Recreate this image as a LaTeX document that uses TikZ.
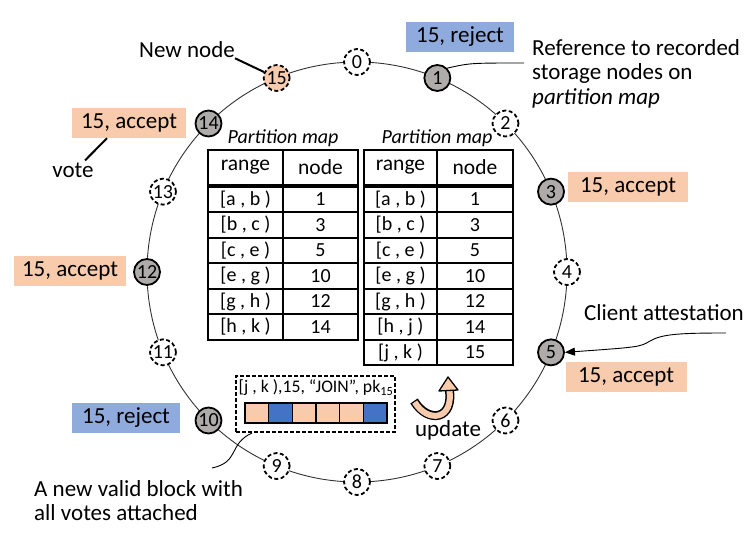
\documentclass[tikz,border=0pt]{standalone}
\usepackage{fontspec}
\setmainfont{Carlito}
\usetikzlibrary{arrows.meta}

\definecolor{peach}{HTML}{F8CBAD}
\definecolor{voteblue}{HTML}{8FAADC}
\definecolor{blockblue}{HTML}{4472C4}
\definecolor{nodegray}{HTML}{AFABAB}

\newcommand{\lblfont}{\fontsize{23}{24.5}\selectfont}
\newcommand{\mapfont}{\fontsize{20}{20}\selectfont}

\tikzset{
  ringnode/.style={circle, draw, line width=1.8pt, minimum size=26pt, inner sep=0pt,
    font=\fontsize{20}{20}\selectfont},
  grynode/.style={ringnode, fill=nodegray},
  emptynode/.style={ringnode, fill=white, dash pattern=on 4pt off 2.5pt},
  newnode/.style={emptynode, fill=peach},
  votebox/.style={minimum width=#1, minimum height=30pt, inner sep=0pt, font=\lblfont},
  acceptbox/.style={votebox=#1, fill=peach},
  rejectbox/.style={votebox=#1, fill=voteblue},
  lbl/.style={font=\lblfont, inner sep=0pt},
  cell/.style={draw, line width=2pt, minimum height=25.5pt, inner sep=0pt, font=\mapfont},
  headcell/.style={cell, minimum height=35pt, font=\fontsize{21.5}{22}\selectfont},
  vcell/.style={draw, line width=1.3pt, minimum width=23.7pt, minimum height=20pt, inner sep=0pt},
  conn/.style={line width=0.9pt},
}

\begin{document}
\begin{tikzpicture}[x=1pt, y=-1pt]
    \useasboundingbox (0,0) rectangle (754,543);

    % the ring
    \draw[conn, black!80] (357,272) circle (210);
    \begin{scope}[shift={(357,272)}]
        \foreach \k in {1,3,5,10,12,14}
            \node[grynode] (n\k) at (-90+22.5*\k:210) {\k};
        \foreach \k in {0,2,4,6,7,8,9,11,13}
            \node[emptynode] (n\k) at (-90+22.5*\k:210) {\k};
        \node[newnode] (n15) at (-90+22.5*15:210) {15};
    \end{scope}

    % votes
    \node[rejectbox=108pt] (v1) at (460,37) {15, reject};
    \node[acceptbox=120pt] (v3) at (628,187) {15, accept};
    \node[acceptbox=121pt] (v5) at (626,377) {15, accept};
    \node[rejectbox=108pt] (v10) at (126,418) {15, reject};
    \node[acceptbox=112pt] (v12) at (70,271) {15, accept};
    \node[acceptbox=114pt] (v14) at (129,123) {15, accept};

    % annotations
    \node[lbl] (newlbl) at (187,50) {New node};
    \draw[line width=2pt] (newlbl.south east) -- (n15);

    \node[lbl] (votelbl) at (73,170) {vote};
    \draw[line width=2pt] ([xshift=12pt,yshift=2pt]votelbl.north) -- ([xshift=-22pt]v14.south);

    \node[lbl, align=left, anchor=north west] (reflbl) at (532,39)
        {Reference to recorded\\storage nodes on\\\textit{partition map}};
    \coordinate (refend) at (524,63);
    \draw[conn] (n1.north east) .. controls (470,63) .. (refend);

    \node[lbl] (clientlbl) at (664,313) {Client attestation};
    \coordinate (clientstart) at (726,333);
    \draw[conn, -{Triangle[length=10pt,width=8pt]}] (clientstart) .. controls (680,333) and (662,334) .. (650,341)
        .. controls (640,347) .. (n5.east);

    % partition maps
    \node[font=\fontsize{20}{20}\itshape] (oldtitle) at (283,138) {Partition map};
    \node[font=\fontsize{20}{20}\itshape] (newtitle) at (437,138) {Partition map};

    \node[headcell, minimum width=75pt] (oldh1) at (245.5,167.5) {range};
    \node[headcell, minimum width=75pt] (oldh2) at (320.5,167.5) {node};
    \node[headcell, minimum width=73pt] (newh1) at (400.5,167.5) {range};
    \node[headcell, minimum width=76pt] (newh2) at (475,167.5) {node};

    \foreach \r/\n [count=\i] in {{[a , b )}/1, {[b , c )}/3, {[c , e )}/5, {[e , g )}/10, {[g , h )}/12, {[h , k )}/14} {
        \node[cell, minimum width=75pt] (oldr\i) at (245.5,174+25.5*\i) {\r};
        \node[cell, minimum width=75pt] (oldn\i) at (320.5,174+25.5*\i) {\n};
    }
    \foreach \r/\n [count=\i] in {{[a , b )}/1, {[b , c )}/3, {[c , e )}/5, {[e , g )}/10, {[g , h )}/12, {[h , j )}/14, {[j , k )}/15} {
        \node[cell, minimum width=73pt] (newr\i) at (400.5,174+25.5*\i) {\r};
        \node[cell, minimum width=76pt] (newn\i) at (475,174+25.5*\i) {\n};
    }

    % new block
    \node[draw, line width=2pt, dash pattern=on 4pt off 2pt, minimum width=159pt, minimum height=56pt] (block) at (315.5,404) {};
    \node[font=\fontsize{17.7}{20}\selectfont] (blocktxt) at (316,388) {[j , k ),15, “JOIN”, pk\textsubscript{15}};
    \foreach \c [count=\i] in {peach,blockblue,peach,peach,peach,blockblue}
        \node[vcell, fill=\c] (c\i) at (233.2+23.67*\i,413) {};

    \node[lbl, align=left, anchor=west] (caplbl) at (34,500.5) {A new valid block with\\all votes attached};
    \coordinate (capend) at (212,468);
    \draw[conn] (capend) .. controls (240,462) and (228,444) .. ([xshift=17pt]block.south west);

    % update arrow
    \draw[line width=9pt] (414,401) .. controls (428,424) and (455,420) .. (449,388);
    \draw[line width=6pt, peach, shorten <=1.3pt] (414,401) .. controls (428,424) and (455,420) .. (449,388);
    \filldraw[fill=peach, line width=1.3pt, line join=round] (448,377) -- (458,390) -- (439,391) -- cycle;
    \node[lbl] (updlbl) at (448,430) {update};
\end{tikzpicture}
\end{document}
